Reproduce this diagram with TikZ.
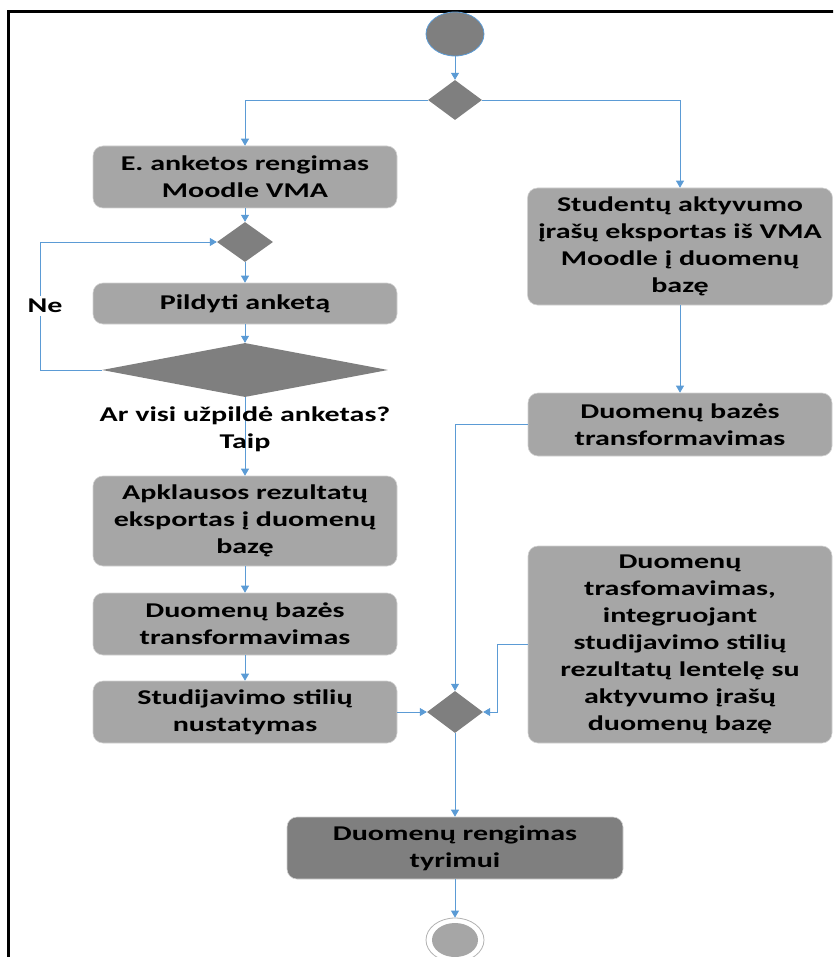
\documentclass[tikz,border=0pt]{standalone}
\usepackage{fontspec}
\newfontfamily\flowfont{Carlito}[FakeStretch=1.43]
\usetikzlibrary{shapes.geometric,arrows.meta}
\definecolor{linkblue}{HTML}{5B9BD5}
\definecolor{boxgray}{HTML}{A6A6A6}
\definecolor{shapegray}{HTML}{7F7F7F}
\begin{document}
\begin{tikzpicture}[x=1pt,y=-1pt,
  txt/.style={font=\flowfont\bfseries\fontsize{21}{27}\selectfont, text=black, align=center},
  activity/.style={txt, rectangle, rounded corners=10pt, fill=boxgray, draw=gray!35, line width=0.6pt, inner sep=0pt, minimum width=304pt},
  choice/.style={diamond, fill=shapegray, inner sep=0pt, draw=none},
  link/.style={draw=linkblue, line width=0.8pt, -{Triangle[width=8pt,length=7pt]}},
  wire/.style={draw=linkblue, line width=0.8pt},
]
\useasboundingbox (0,0) rectangle (833,957);
\clip (0,0) rectangle (833,957);

% outer frame
\draw[line width=3pt] (8.5,960) -- (8.5,12) -- (836,12);

% start / finish
\node[ellipse, fill=shapegray, draw=linkblue, line width=0.8pt, minimum width=58pt, minimum height=44pt, inner sep=0pt] (start) at (455,34) {};
\node[ellipse, draw=gray!60, line width=0.8pt, fill=white, minimum width=58pt, minimum height=44pt, inner sep=0pt] (finish) at (455,940) {};
\node[ellipse, fill=boxgray, minimum width=46pt, minimum height=34pt, inner sep=0pt] (finishcore) at (finish) {};

% decisions
\node[choice, minimum width=54pt, minimum height=40pt] (d1) at (455,100) {};
\node[choice, minimum width=56pt, minimum height=40pt] (d2) at (245,242) {};
\node[choice, minimum width=286pt, minimum height=54pt] (dq) at (245,370) {};
\node[choice, minimum width=56pt, minimum height=42pt] (d3) at (455,712) {};

% left column
\node[activity, minimum height=62pt] (b1) at (245,177) {E. anketos rengimas\\Moodle VMA};
\node[activity, minimum height=41pt] (b2) at (245,303.5) {Pildyti anketą};
\node[activity, minimum height=90pt] (b3) at (245,521) {Apklausos rezultatų\\eksportas į duomenų\\bazę};
\node[activity, minimum height=62pt] (b4) at (245,624) {Duomenų bazės\\transformavimas};
\node[activity, minimum height=62pt] (b5) at (245,712) {Studijavimo stilių\\nustatymas};

% right column
\node[activity, minimum width=305pt, minimum height=117pt] (b6) at (680,246.5) {Studentų aktyvumo\\įrašų eksportas iš VMA\\Moodle į duomenų\\bazę};
\node[activity, minimum height=63pt] (b7) at (680,424.5) {Duomenų bazės\\transformavimas};
\node[activity, minimum height=197pt] (b8) at (680,644.5) {Duomenų\\trasfomavimas,\\integruojant\\studijavimo stilių\\rezultatų lentelę su\\aktyvumo įrašų\\duomenų bazę};

% final activity
\node[activity, fill=shapegray, minimum width=336pt, minimum height=62pt] (b9) at (455,848) {Duomenų rengimas\\tyrimui};

% connectors
\coordinate (loopx) at (40,0);
\coordinate (joinx) at (497,0);
\draw[link] (start) -- (d1);
\draw[link] (d1.west) -| (b1.north);
\draw[link] (d1.east) -| (b6.north);
\draw[link] (b1) -- (d2);
\draw[link] (d2) -- (b2);
\draw[link] (b2) -- (dq);
\draw[link] (dq.west) -- (loopx |- dq.west) -- (loopx |- d2.west) -- (d2.west);
\draw[link] (dq.south) -- (b3.north);
\draw[link] (b3) -- (b4);
\draw[link] (b4) -- (b5);
\draw[link] (b5.east) -- (d3.west);
\draw[link] (b6) -- (b7);
\draw[link] (b7.west) -| (d3.north);
\draw[link] (b8.west) -| (joinx |- d3.east) -- (d3.east);
\draw[link] (d3.south) -- (b9.north);
\draw[link] (b9.south) -- (finish.north);

% branch labels
\node[txt, fill=white, inner sep=3pt] (ne) at (45,306) {Ne};
\node[txt, inner sep=0pt] (question) at (245,416) {Ar visi užpildė anketas?};
\node[txt, inner sep=0pt] (taip) at (245,443) {Taip};
\end{tikzpicture}
\end{document}
